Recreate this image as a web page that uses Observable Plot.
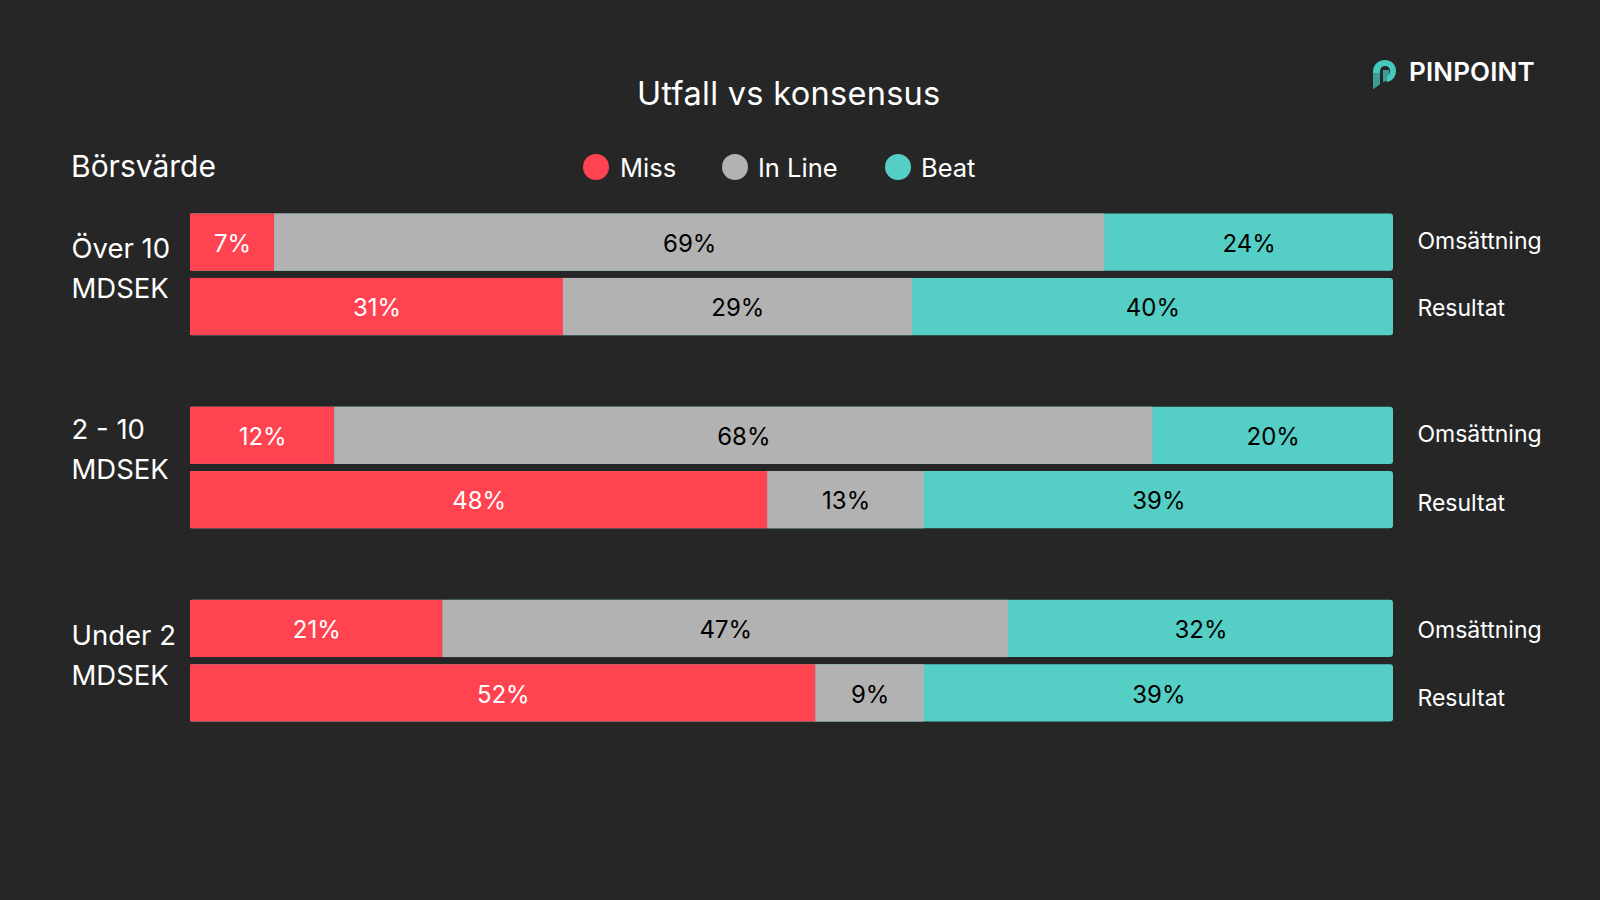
<!DOCTYPE html>
<html>
<head>
<meta charset="utf-8">
<script src="https://cdn.jsdelivr.net/npm/d3@7"></script>
<script src="https://cdn.jsdelivr.net/npm/@observablehq/plot@0.6"></script>
<style>
  html,body{margin:0;padding:0;background:#262626;overflow:hidden}
  body{width:1600px;height:900px;font-family:Inter,"Open Sans",sans-serif;color:#fff}
  #head{position:relative;width:1600px;height:200px}
  #head div{position:absolute;white-space:nowrap;line-height:1}
  #title{left:637px;top:78px;font-size:32.5px;letter-spacing:.3px}
  #sub{left:71px;top:151px;font-size:30px}
  .dot{width:26px;height:26px;border-radius:50%;top:154px}
  .lg{font-size:25.5px;top:155px}
  #brand{left:1409px;top:59px;font-size:26px;font-weight:600;letter-spacing:.15px}
  #logo{position:absolute;left:1373px;top:60px}
  svg.plot{display:block}
</style>
</head>
<body>
<div id="head">
  <div id="title">Utfall vs konsensus</div>
  <div id="sub">Börsvärde</div>
  <svg id="logo" width="23" height="29" viewBox="0 0 23 29">
    <path fill="#45c9bd" d="M0 12C0 4 6 0 12 0C19 0 23 5 23 11C23 17 19 21 14 22L14 16C16 15 17 13 17 11C17 8 15 6 12 6C9 6 7 8 7 12L7 24L0 29Z"/>
    <path fill="#3f9c95" d="M0 13L7 13L7 24L0 29Z"/>
    <path fill="#3f9c95" d="M10 10L16 10L16 15L14 16L14 21L10 22Z"/>
  </svg>
  <div id="brand">PINPOINT</div>
</div>
<div id="chart"></div>
<script>
const categories = ["Miss", "In Line", "Beat"];
const colors = ["#ff4350", "#b2b2b2", "#55cfc5"];
const legendDotLeft = [583, 722, 885];
const legendTextLeft = [620, 758, 921];

const rows = ["g1o", "g1r", "s1", "g2o", "g2r", "s2", "g3o", "g3r"];
const barRows = ["g1o", "g1r", "g2o", "g2r", "g3o", "g3r"];
const metricLabels = ["Omsättning", "Resultat", "Omsättning", "Resultat", "Omsättning", "Resultat"];
const groupRows = ["g1o", "g2o", "g3o"];
const groupLabels = ["Över 10\nMDSEK", "2 - 10\nMDSEK", "Under 2\nMDSEK"];

const miss = [7, 31, 12, 48, 21, 52];
const inLine = [69, 29, 68, 13, 47, 9];
const beat = [24, 40, 20, 39, 32, 39];

const table = [];
barRows.forEach((row, i) => {
  [miss, inLine, beat].forEach((s, j) => {
    table.push({row, category: categories[j], value: s[i]});
  });
});
const metrics = barRows.map((row, i) => ({row, label: metricLabels[i]}));
const groups = groupRows.map((row, i) => ({row, label: groupLabels[i]}));

const head = document.getElementById("head");
categories.forEach((c, i) => {
  const d = document.createElement("div");
  d.className = "dot";
  d.style.left = legendDotLeft[i] + "px";
  d.style.background = colors[i];
  head.appendChild(d);
  const t = document.createElement("div");
  t.className = "lg";
  t.style.left = legendTextLeft[i] + "px";
  t.textContent = c;
  head.appendChild(t);
});

const stackOpts = {x: "value", y: "row", z: "category", order: null};
const metricText = (row, dy) => Plot.text(metrics.filter(d => d.row === row), {
  y: "row", text: "label", frameAnchor: "left", textAnchor: "start", dx: 1417, dy, fill: "#fff", fontSize: 23
});
const groupText = (row, dy) => Plot.text(groups.filter(d => d.row === row), {
  y: "row", text: "label", frameAnchor: "left", textAnchor: "start", dx: 71,
  lineAnchor: "top", dy, lineHeight: 1.45, fill: "#fff", fontSize: 27.5
});

const plot = Plot.plot({
  width: 1600,
  height: 700,
  margin: 0,
  style: {background: "transparent", fontFamily: "Inter, 'Open Sans', sans-serif", overflow: "visible"},
  x: {domain: [0, 100], range: [190, 1393], axis: null},
  y: {domain: rows, range: [13.5, 521.5], round: false, paddingInner: 0.111, paddingOuter: 0, axis: null},
  color: {domain: categories, range: colors},
  marks: [
    Plot.barX(table.filter(d => d.category === "Beat"), {x1: 0, x2: 100, y: "row", fill: "#55cfc5", rx: 3}),
    Plot.barX(table, Plot.stackX({...stackOpts, fill: d => d.category === "Beat" ? "none" : d.category})),
    Plot.text(table, Plot.stackX({...stackOpts,
      text: d => d.value + "%",
      fill: d => d.category === "Miss" ? "#ffffff" : "#000000",
      fontSize: 24,
      dy: 1.5
    })),
    metricText("g1o", -1),
    metricText("g1r", 2),
    metricText("g2o", -1),
    metricText("g2r", 3),
    metricText("g3o", 2),
    metricText("g3r", 5),
    groupText("g1o", -13),
    groupText("g2o", -25),
    groupText("g3o", -12)
  ]
});
document.getElementById("chart").appendChild(plot);
</script>
</body>
</html>
